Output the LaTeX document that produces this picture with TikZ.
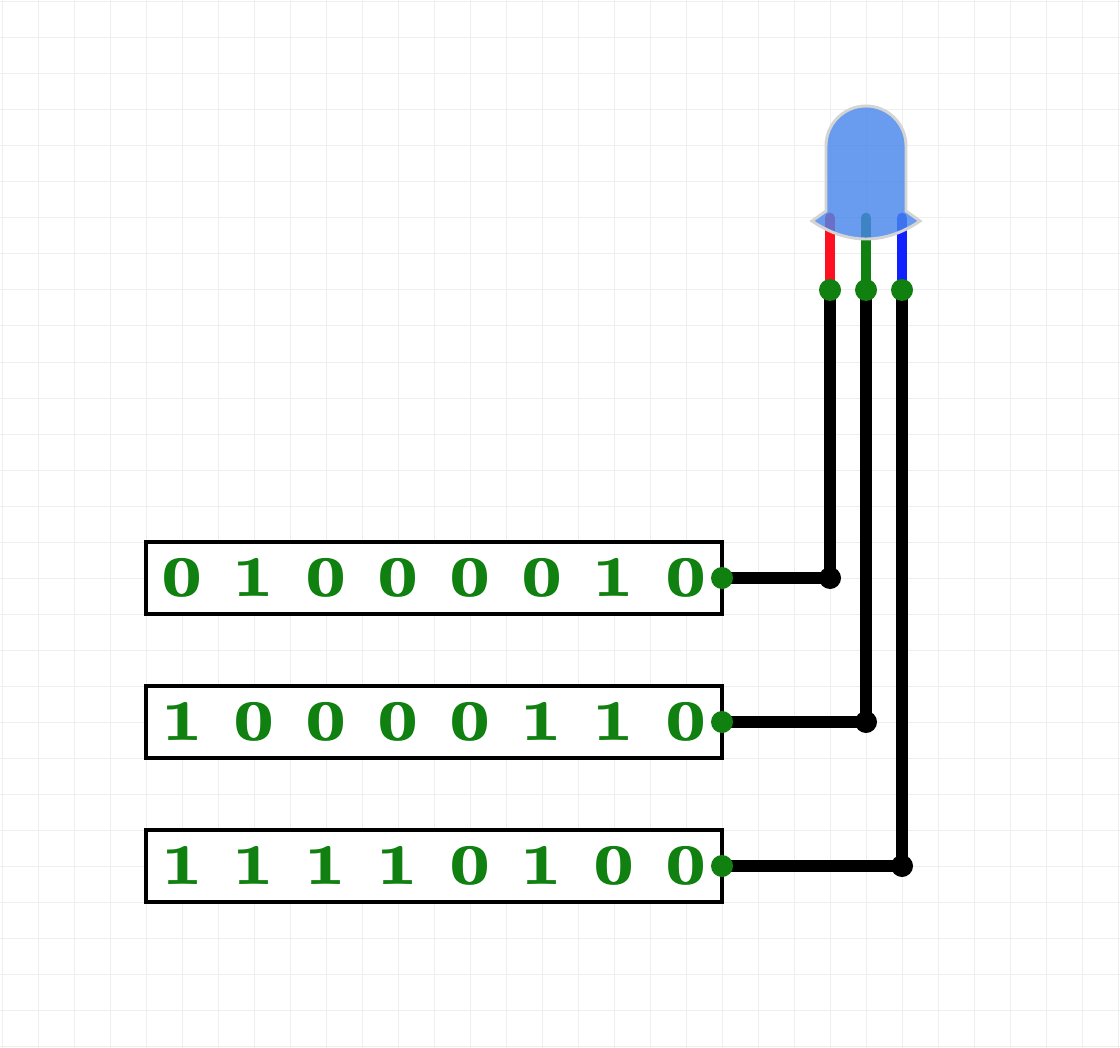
\documentclass[tikz,border=0pt]{standalone}
\usepackage{fontspec}
\usetikzlibrary{backgrounds}
\newfontfamily\bitfont[Numbers=OldStyle,Kerning=Off]{Latin Modern Roman Demi}
\definecolor{gridgray}{HTML}{EEEEEE}
\definecolor{bitgreen}{HTML}{108010}
\definecolor{ledred}{HTML}{FF1020}
\definecolor{ledblue}{HTML}{1020FF}
\definecolor{ledbody}{HTML}{4986EC}
\definecolor{ledrim}{HTML}{D4D4D4}
\tikzset{
  gridline/.style={gridgray,line width=.75pt},
  bitbox/.style={draw,fill=white,line width=3pt,outer sep=0pt,minimum width=432pt,minimum height=54pt,inner sep=0pt,
    text=bitgreen,font=\fontsize{62}{62}\selectfont\bitfont},
  wire/.style={line width=8.3pt},
  lead/.style={line width=8pt,line cap=round},
  greendot/.style={circle,fill=bitgreen,minimum size=16.5pt,inner sep=0pt},
  blackdot/.style={circle,fill=black,minimum size=16.5pt,inner sep=0pt},
}
\newcommand{\bits}[1]{\foreach \b in {#1} {\makebox[54pt][c]{\b}}}
\begin{document}
\begin{tikzpicture}[x=.75pt,y=-.75pt]
  \useasboundingbox (0,0) rectangle (1120,1048);
  % registers
  \node[bitbox] (regR) at (434,578) {\bits{0,1,0,0,0,0,1,0}};
  \node[bitbox] (regG) at (434,722) {\bits{1,0,0,0,0,1,1,0}};
  \node[bitbox] (regB) at (434,866) {\bits{1,1,1,1,0,1,0,0}};
  \node[blackdot] (jointR) at (830,578) {};
  \node[blackdot] (jointG) at (866,722) {};
  \node[blackdot] (jointB) at (902,866) {};
  \node[greendot] (pinR) at (830,290) {};
  \node[greendot] (pinG) at (866,290) {};
  \node[greendot] (pinB) at (902,290) {};
  \node[greendot] (outR) at (regR.east) {};
  \node[greendot] (outG) at (regG.east) {};
  \node[greendot] (outB) at (regB.east) {};
  \coordinate (topR) at (830,218);
  \coordinate (topG) at (866,218);
  \coordinate (topB) at (902,218);
  \begin{pgfonlayer}{background}
    \fill[white] (0,0) rectangle (1120,1048);
    \foreach \k in {0,...,31} \draw[gridline] ({2+36*\k},0) -- ({2+36*\k},1048);
    \foreach \k in {0,...,29} \draw[gridline] (0,{2+36*\k}) -- (1120,{2+36*\k});
    % wires
    \draw[wire] (outR.center) -- (jointR.center) -- (pinR.center);
    \draw[wire] (outG.center) -- (jointG.center) -- (pinG.center);
    \draw[wire] (outB.center) -- (jointB.center) -- (pinB.center);
    \draw[lead,ledred] (topR) -- (pinR.center);
    \draw[lead,bitgreen] (topG) -- (pinG.center);
    \draw[lead,ledblue] (topB) -- (pinB.center);
  \end{pgfonlayer}
  % led
  \draw[draw=ledrim,fill=ledbody,fill opacity=.82,line width=2.2pt]
    (826,211) -- (826,146) arc[start angle=180,end angle=0,x radius=40,y radius=-40]
    -- (906,211) -- (920,221) .. controls (885,245) and (847,245) .. (812,221) -- cycle;
\end{tikzpicture}
\end{document}
